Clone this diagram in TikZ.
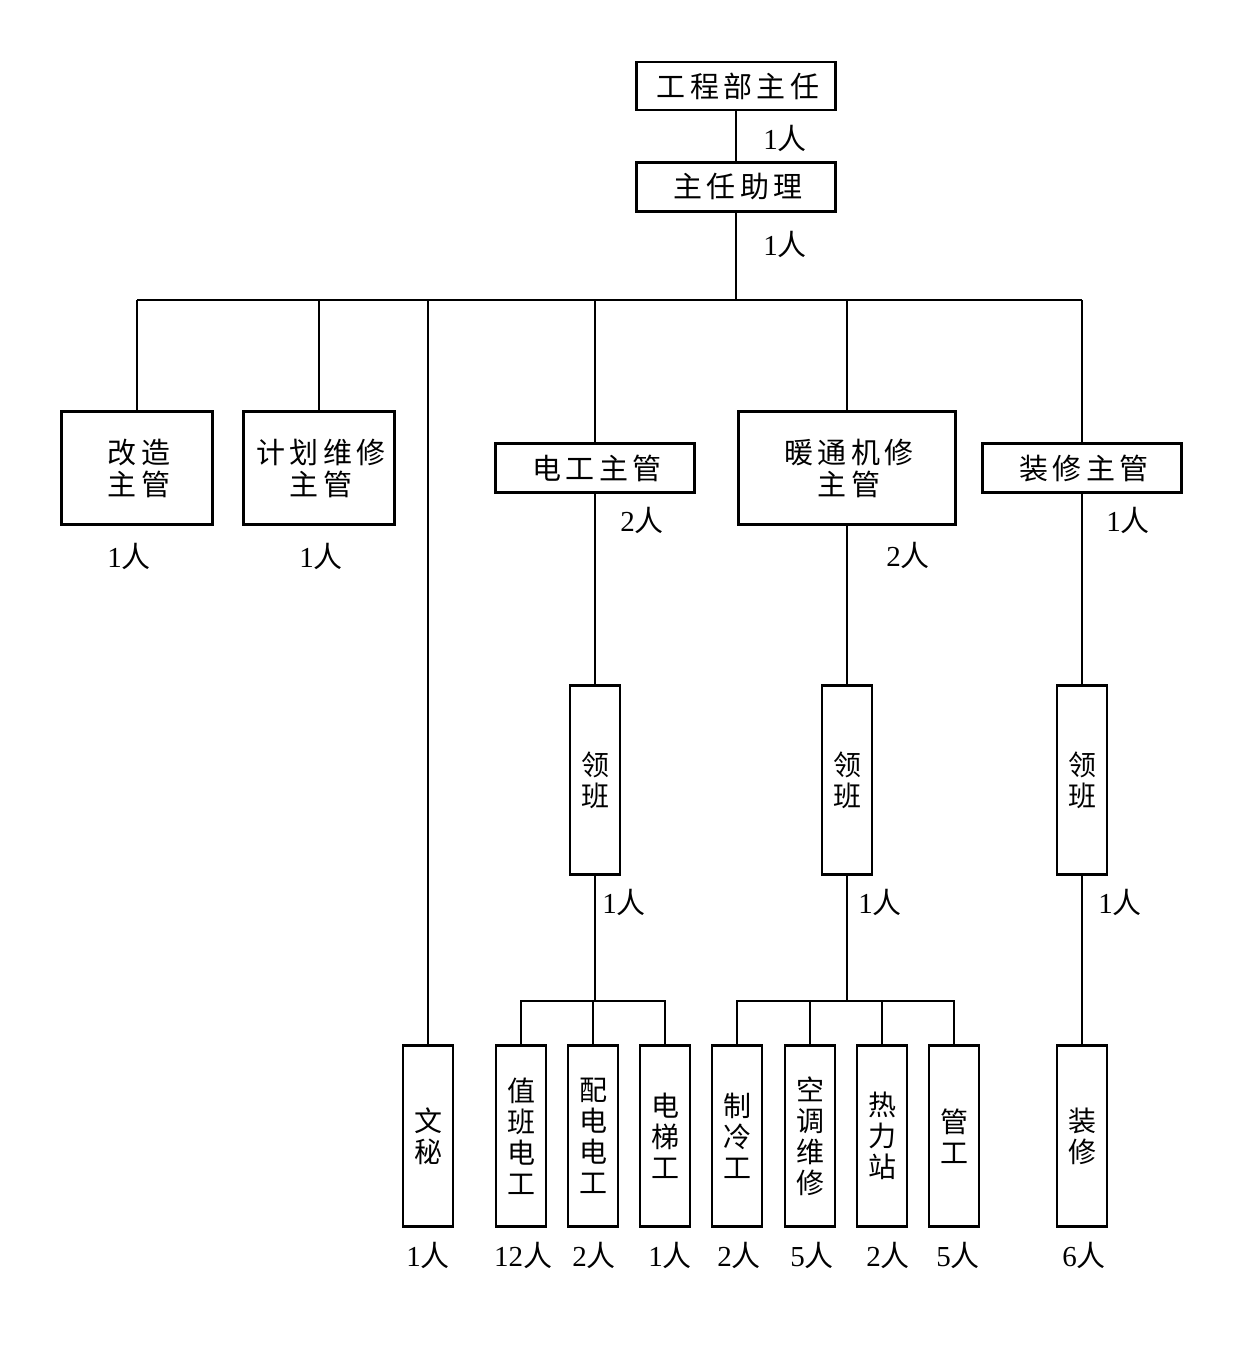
\documentclass[tikz,border=0pt]{standalone}
\usepackage{fontspec}
\setmainfont{Liberation Serif}
\newfontfamily\cjk{Noto Sans CJK SC}
\newfontfamily\cjkh[LetterSpace=15]{Noto Sans CJK SC}
\newcommand\pp[1]{#1{\cjk 人}}
\newcommand\ls{\hspace*{4.3pt}}
\begin{document}
\begin{tikzpicture}[x=1pt,y=-1pt,
  conn/.style={line width=2pt},
  hbox/.style={draw, line width=2.6pt, inner sep=0pt, align=center,
    font=\cjkh\fontsize{29}{32}\selectfont},
  vbox/.style={draw, line width=2.6pt, inner sep=0pt, align=center,
    minimum width=50, minimum height=181, font=\cjk\fontsize{28}{31}\selectfont},
  lab/.style={inner sep=0pt, font=\fontsize{29}{32}\selectfont}]
\useasboundingbox[fill=white] (0,0) rectangle (1240,1346);

% boxes
\node[hbox, minimum width=199, minimum height=48] (top) at (736,86) {\ls{}工程部主任};
\node[hbox, minimum width=199, minimum height=49] (asst) at (736,187) {\ls{}主任助理};
\node[hbox, minimum width=151, minimum height=113] (gz) at (137,468) {\ls{}改造\\\ls{}主管};
\node[hbox, minimum width=151, minimum height=113] (jh) at (319,468) {\ls{}计划维修\\\ls{}主管};
\node[hbox, minimum width=199, minimum height=49] (dg) at (595,468) {\ls{}电工主管};
\node[hbox, minimum width=217, minimum height=113] (nt) at (847,468) {\ls{}暖通机修\\\ls{}主管};
\node[hbox, minimum width=199, minimum height=49] (zx) at (1082,468) {\ls{}装修主管};

\node[vbox, minimum height=189] (lb1) at (595,780) {领\\班};
\node[vbox, minimum height=189] (lb2) at (847,780) {领\\班};
\node[vbox, minimum height=189] (lb3) at (1082,780) {领\\班};

\node[vbox] (ws) at (428,1136) {文\\秘};
\node[vbox] (b1) at (521,1136) {值\\班\\电\\工};
\node[vbox] (b2) at (593,1136) {配\\电\\电\\工};
\node[vbox] (b3) at (665,1136) {电\\梯\\工};
\node[vbox] (b4) at (737,1136) {制\\冷\\工};
\node[vbox] (b5) at (810,1136) {空\\调\\维\\修};
\node[vbox] (b6) at (882,1136) {热\\力\\站};
\node[vbox] (b7) at (954,1136) {管\\工};
\node[vbox] (b8) at (1082,1136) {装\\修};

% bus coordinates
\coordinate (busL) at (137,300);
\coordinate (busR) at (1082,300);
\coordinate (eBus) at (521,1001);
\coordinate (hBus) at (737,1001);

% connectors
\draw[conn] (top) -- (asst);
\draw[conn] (asst) -- (asst |- busL);
\draw[conn] (busL) -- (busR);
\draw[conn] (gz.north |- busL) -- (gz.north);
\draw[conn] (jh.north |- busL) -- (jh.north);
\draw[conn] (ws.north |- busL) -- (ws.north);
\draw[conn] (dg.north |- busL) -- (dg.north);
\draw[conn] (nt.north |- busL) -- (nt.north);
\draw[conn] (zx.north |- busL) -- (zx.north);

\draw[conn] (dg.south) -- (lb1.north);
\draw[conn] (nt.south) -- (lb2.north);
\draw[conn] (zx.south) -- (lb3.north);

\draw[conn] (lb1.south) -- (lb1.south |- eBus);
\draw[conn] (b1.north) |- (b3.north |- eBus) -- (b3.north);
\draw[conn] (b2.north) -- (b2.north |- eBus);

\draw[conn] (lb2.south) -- (lb2.south |- hBus);
\draw[conn] (b4.north) |- (b7.north |- hBus) -- (b7.north);
\draw[conn] (b5.north) -- (b5.north |- hBus);
\draw[conn] (b6.north) -- (b6.north |- hBus);

\draw[conn] (lb3.south) -- (b8.north);

% labels
\node[lab] (n1) at (785,138) {\pp{1}};
\node[lab] (n2) at (785,244) {\pp{1}};
\node[lab] (n3) at (129,556) {\pp{1}};
\node[lab] (n4) at (321,556) {\pp{1}};
\node[lab] (n5) at (642,520) {\pp{2}};
\node[lab] (n6) at (908,555) {\pp{2}};
\node[lab] (n7) at (1128,520) {\pp{1}};
\node[lab] (n8) at (624,902) {\pp{1}};
\node[lab] (n9) at (880,902) {\pp{1}};
\node[lab] (n10) at (1120,902) {\pp{1}};
\node[lab] (m1) at (428,1255) {\pp{1}};
\node[lab] (m2) at (523,1255) {\pp{12}};
\node[lab] (m3) at (594,1255) {\pp{2}};
\node[lab] (m4) at (670,1255) {\pp{1}};
\node[lab] (m5) at (739,1255) {\pp{2}};
\node[lab] (m6) at (812,1255) {\pp{5}};
\node[lab] (m7) at (888,1255) {\pp{2}};
\node[lab] (m8) at (958,1255) {\pp{5}};
\node[lab] (m9) at (1084,1255) {\pp{6}};
\end{tikzpicture}
\end{document}
